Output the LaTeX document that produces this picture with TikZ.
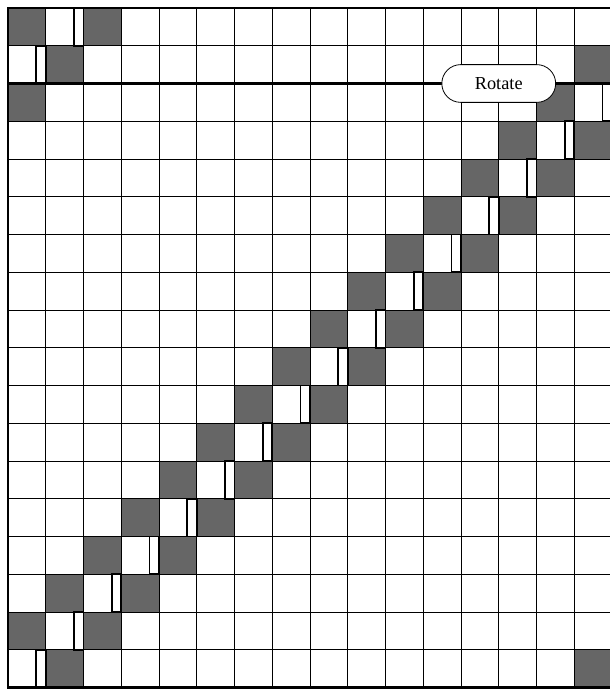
\documentclass[tikz,border=0pt]{standalone}
\usepackage{fontspec}
\setmainfont{Liberation Serif}
\usetikzlibrary{shapes.misc}
\definecolor{cellgray}{RGB}{102,102,102}

\begin{document}
\begin{tikzpicture}[
    gridline/.style={line width=0.6pt},
    cell/.style={fill=cellgray},
    slot/.style={draw, fill=white, line width=1.3pt},
    frame/.style={line width=1.6pt},
    seam/.style={line width=2.3pt},
    rotbox/.style={
      draw,
      fill=white,
      rounded rectangle,
      minimum width=3.25cm,
      minimum height=1cm,
      line width=0.6pt,
      font=\fontsize{13.8}{16}\selectfont
    }
  ]
  \useasboundingbox (-0.212,-0.04) rectangle (15.947,18.212);

  % shaded cells, wrapping round at the edges
  \foreach \i in {1,...,18} {
    \pgfmathtruncatemacro{\ca}{mod(33-\i,16)+1}
    \pgfmathtruncatemacro{\cb}{mod(35-\i,16)+1}
    \fill[cell] (\ca-1,18-\i) rectangle (\ca,19-\i);
    \fill[cell] (\cb-1,18-\i) rectangle (\cb,19-\i);
  }

  \draw[gridline] (0,0) grid (16,18);

  % narrow slots between the shaded cells
  \foreach \i in {1,...,18} {
    \pgfmathtruncatemacro{\cs}{mod(34-\i,16)+1}
    \draw[slot] (\cs-0.25,18-\i) rectangle (\cs,19-\i);
  }

  \draw[frame] (16,18) -- (0,18) -- (0,0) -- (16,0);
  \draw[seam] (0,16) -- (16,16);

  \node[rotbox] (rotate) at (13,16) {Rotate};
\end{tikzpicture}
\end{document}
